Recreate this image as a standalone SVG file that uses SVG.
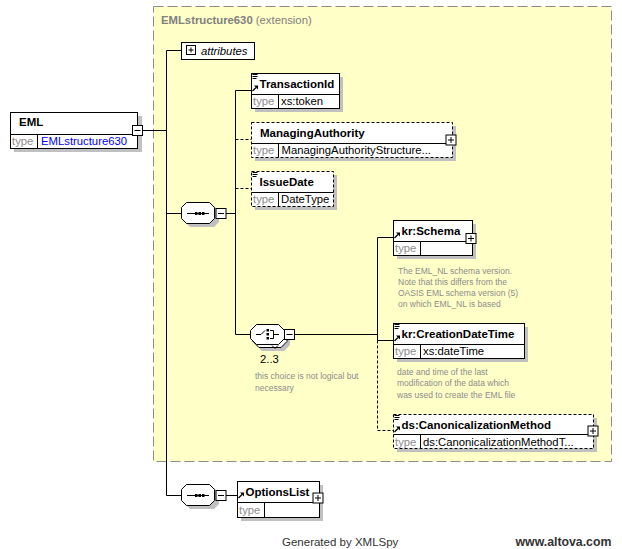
<svg xmlns="http://www.w3.org/2000/svg" width="622" height="549" viewBox="0 0 622 549">
<style>
.bg{fill:#fff}
.ext{fill:#ffffc8;stroke:#8c8c8c;stroke-dasharray:10,4}
.box{fill:#fff;stroke:#000}
.dbox{fill:#fff;stroke:#000;stroke-dasharray:3,2}
.sh{fill:#c0c0c0}
.ln{stroke:#000;fill:none}
.dl{stroke:#000;fill:none;stroke-dasharray:3,2}
.gl{stroke:#000;fill:none}
.nm{font-family:"Liberation Sans",Arial,sans-serif;font-size:11.5px;font-weight:bold;fill:#000}
.tl{font-family:"Liberation Sans",Arial,sans-serif;font-size:11.3px;fill:#8c8c8c}
.tv{font-family:"Liberation Sans",Arial,sans-serif;font-size:11.3px;fill:#000}
.cm{font-family:"Liberation Sans",Arial,sans-serif;font-size:8.5px;fill:#8c8c8c}
.ttl{font-family:"Liberation Sans",Arial,sans-serif;font-size:11.3px;fill:#808080}
.ft{font-family:"Liberation Sans",Arial,sans-serif;font-size:11.5px;fill:#333}
</style>
<defs>
<g id="eq"><path d="M0,0.5H5M0,2.5H5M0,4.5H4" stroke="#000" fill="none"/></g>
<g id="ar"><path d="M0.5,6 L4,2.5" stroke="#000" stroke-width="1.3" fill="none"/><path d="M2,0.5 H6 V4.5 Z" fill="#000"/></g>
<g id="plus"><rect x="0.5" y="0.5" width="10" height="10" fill="#fff" stroke="#000"/><path d="M2.5,5.5H8.5M5.5,2.5V8.5" stroke="#000"/></g>
<g id="minus"><rect x="0.5" y="0.5" width="10" height="10" fill="#fff" stroke="#000"/><path d="M2.5,5.5H8.5" stroke="#000"/></g>
</defs>
<rect class="bg" x="0" y="0" width="622" height="549"/>

<g id="extension">
<rect class="ext" x="153.5" y="6.5" width="458" height="455"/>
<text class="ttl" x="161" y="23.5"><tspan font-weight="bold">EMLstructure630</tspan> (extension)</text>
</g>

<g id="connectors">
<path class="ln" d="M142.5,130.5H166.5M166.5,50.5V495.5M166.5,50.5H181.5M166.5,213.5H181.5M166.5,495.5H181.5"/>
<path class="ln" d="M225.5,213.5H235.5M235.5,90.5V334.5M235.5,90.5H251.5M235.5,334.5H250.5"/>
<path class="dl" d="M235.5,139.5H251.5M235.5,188.5H251.5"/>
<path class="ln" d="M294.5,334.5H377.5M377.5,237.5V340.5M377.5,237.5H393.5M377.5,340.5H393.5"/>
<path class="dl" d="M377.5,340.5V430.5H393.5"/>
<path class="ln" d="M225.5,495.5H237.5"/>
</g>

<g id="EML">
<rect class="sh" x="14" y="116" width="128" height="36"/>
<rect class="box" x="10.5" y="112.5" width="127" height="36"/>
<path class="gl" d="M10.5,134.5H137.5M37.5,134.5V148.5"/>
<text class="nm" x="19" y="126">EML</text>
<text class="tl" x="12" y="144.5">type</text>
<text class="tv" x="41" y="144.5" style="fill:#0000ff">EMLstructure630</text>
<use href="#minus" x="132" y="125"/>
</g>

<g id="attributes">
<rect class="box" x="181.5" y="42.5" width="73" height="17"/>
<rect x="186.5" y="45.5" width="9" height="9" fill="#fff" stroke="#000"/>
<path d="M188.5,50H193.5M191,47.5V52.5" stroke="#000"/>
<text class="tv" x="201" y="55" font-style="italic">attributes</text>
</g>

<g id="seq1">
<path class="sh" d="M190,206H214L219,211V222L214,227H190L185,222V211Z"/>
<path class="box" d="M186.5,202.5H209.5L214.5,207.5V218.5L209.5,223.5H186.5L181.5,218.5V207.5Z"/>
<path class="ln" d="M187,213.5H209"/>
<rect x="195" y="212" width="2.5" height="3"/><rect x="198.5" y="212" width="2.5" height="3"/><rect x="202" y="212" width="2.5" height="3"/>
<use href="#minus" x="215.5" y="208"/>
</g>

<g id="TransactionId">
<rect class="sh" x="255" y="77" width="88" height="35"/>
<rect class="box" x="251.5" y="73.5" width="88" height="35"/>
<path class="gl" d="M251.5,94.5H339.5M278.5,94.5V108.5"/>
<use href="#eq" x="252.5" y="74"/>
<use href="#ar" x="252" y="85"/>
<text class="nm" x="259.5" y="87.5">TransactionId</text>
<text class="tl" x="253" y="105">type</text>
<text class="tv" x="281" y="105">xs:token</text>
</g>

<g id="ManagingAuthority">
<rect class="sh" x="255" y="126" width="201" height="35"/>
<rect class="dbox" x="251.5" y="122.5" width="201" height="35"/>
<path class="gl" d="M251.5,143.5H452.5M278.5,143.5V157.5"/>
<text class="nm" x="260" y="137">ManagingAuthority</text>
<text class="tl" x="253" y="154">type</text>
<text class="tv" x="281.5" y="154">ManagingAuthorityStructure...</text>
<use href="#plus" x="445.5" y="134.5"/>
</g>

<g id="IssueDate">
<rect class="sh" x="255" y="175" width="82" height="35"/>
<rect class="dbox" x="251.5" y="171.5" width="82" height="35"/>
<path class="gl" d="M251.5,192.5H333.5M278.5,192.5V206.5"/>
<use href="#eq" x="252.5" y="172"/>
<text class="nm" x="259.5" y="186">IssueDate</text>
<text class="tl" x="253" y="203">type</text>
<text class="tv" x="281" y="203">DateType</text>
</g>

<g id="choice">
<path class="sh" d="M262,330H284L290,336V345L284,351H262L256,345V336Z"/>
<path class="box" d="M259,327.5H281L287,333.5V341.5L281,347.5H259L253,341.5V333.5Z"/>
<path class="box" d="M256.5,324.5H278.5L284.5,330.5V338.5L278.5,344.5H256.5L250.5,338.5V330.5Z"/>
<path class="ln" d="M272,345.5L275,348.5L278,345.5"/>
<path class="ln" d="M256,334.5H261L265,330.5"/>
<rect x="266.5" y="329" width="2.5" height="2.5"/><rect x="266.5" y="333" width="2.5" height="2.5"/><rect x="266.5" y="337" width="2.5" height="2.5"/>
<path class="ln" d="M270,330.5H273.5V338.5H270M273.5,334.5H279"/>
<use href="#minus" x="284" y="329"/>
<text class="tv" x="260" y="362.5">2..3</text>
<text class="cm" x="255" y="379">this choice is not logical but</text>
<text class="cm" x="255" y="391">necessary</text>
</g>

<g id="krSchema">
<rect class="sh" x="397" y="224" width="79" height="35"/>
<rect class="box" x="393.5" y="220.5" width="79" height="35"/>
<path class="gl" d="M393.5,241.5H472.5M420.5,241.5V255.5"/>
<use href="#ar" x="394" y="232"/>
<text class="nm" x="401.5" y="235">kr:Schema</text>
<text class="tl" x="395" y="252">type</text>
<use href="#plus" x="465.5" y="233"/>
<text class="cm" x="398" y="274">The EML_NL schema version.</text>
<text class="cm" x="398" y="285">Note that this differs from the</text>
<text class="cm" x="398" y="296">OASIS EML schema version (5)</text>
<text class="cm" x="398" y="307">on which EML_NL is based</text>
</g>

<g id="krCreationDateTime">
<rect class="sh" x="397" y="327" width="131" height="35"/>
<rect class="box" x="393.5" y="323.5" width="131" height="35"/>
<path class="gl" d="M393.5,344.5H524.5M420.5,344.5V358.5"/>
<use href="#eq" x="394.5" y="324"/>
<use href="#ar" x="394" y="335"/>
<text class="nm" x="401.5" y="338">kr:CreationDateTime</text>
<text class="tl" x="395" y="355">type</text>
<text class="tv" x="423" y="355">xs:dateTime</text>
<text class="cm" x="397" y="375">date and time of the last</text>
<text class="cm" x="397" y="386">modification of the data which</text>
<text class="cm" x="397" y="397.5">was used to create the EML file</text>
</g>

<g id="dsCanonicalizationMethod">
<rect class="sh" x="397" y="418" width="200" height="34"/>
<rect class="dbox" x="393.5" y="414.5" width="200" height="34"/>
<path class="gl" d="M393.5,434.5H593.5M420.5,434.5V448.5"/>
<use href="#eq" x="394.5" y="415"/>
<use href="#ar" x="394" y="426"/>
<text class="nm" x="401.5" y="429">ds:CanonicalizationMethod</text>
<text class="tl" x="395" y="445.5">type</text>
<text class="tv" x="423" y="445.5">ds:CanonicalizationMethodT...</text>
<use href="#plus" x="587.5" y="425.5"/>
</g>

<g id="seq2">
<path class="sh" d="M190,488H214L219,493V504L214,509H190L185,504V493Z"/>
<path class="box" d="M186.5,484.5H209.5L214.5,489.5V500.5L209.5,505.5H186.5L181.5,500.5V489.5Z"/>
<path class="ln" d="M187,495.5H209"/>
<rect x="195" y="494" width="2.5" height="3"/><rect x="198.5" y="494" width="2.5" height="3"/><rect x="202" y="494" width="2.5" height="3"/>
<use href="#minus" x="215.5" y="490"/>
</g>

<g id="OptionsList">
<rect class="sh" x="241" y="485" width="82" height="36"/>
<rect class="box" x="237.5" y="481.5" width="82" height="36"/>
<path class="gl" d="M237.5,502.5H319.5M264.5,502.5V517.5"/>
<use href="#ar" x="238" y="492"/>
<text class="nm" x="245.5" y="495.5">OptionsList</text>
<text class="tl" x="239" y="514">type</text>
<use href="#plus" x="312.5" y="492.5"/>
</g>

<g id="footer">
<text class="ft" x="282" y="545.5">Generated by XMLSpy</text>
<text class="ft" x="515.5" y="545.5" font-weight="bold" style="font-size:12.3px">www.altova.com</text>
</g>
</svg>
